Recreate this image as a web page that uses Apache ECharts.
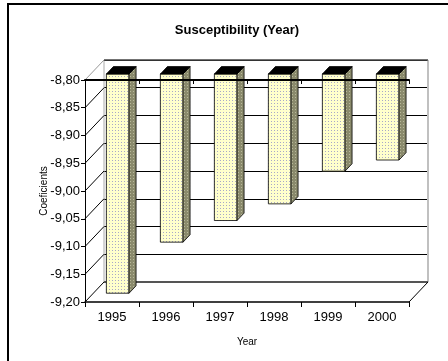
<!DOCTYPE html>
<html>
<head>
<meta charset="utf-8">
<script src="https://cdn.jsdelivr.net/npm/echarts@6/dist/echarts.min.js"></script>
<style>
  html, body { margin: 0; padding: 0; background: #fff; }
  #chart { width: 448px; height: 361px; }
</style>
</head>
<body>
<div id="chart"></div>
<script>
// ---- data ----
var years = ['1995', '1996', '1997', '1998', '1999', '2000'];
var coefValues = [-9.195, -9.103, -9.064, -9.034, -8.975, -8.955];
var yTicks = [-9.20, -9.15, -9.10, -9.05, -9.00, -8.95, -8.90, -8.85, -8.80];
var yMin = -9.20;
var yMax = -8.80;
var yStep = 0.05;

// depth of the fake 3d box (front plane -> back wall)
var DX = 19, DY = -20;
var FONT = "'Liberation Sans Narrow', 'Liberation Sans', Arial, sans-serif";

// dotted fill like the old excel pattern
function dots(bg, dot) {
    var c = document.createElement('canvas');
    c.width = 3; c.height = 3;
    var ctx = c.getContext('2d');
    ctx.fillStyle = bg;
    ctx.fillRect(0, 0, 3, 3);
    ctx.fillStyle = dot;
    ctx.fillRect(1, 1, 1, 1);
    return { image: c, repeat: 'repeat' };
}
var frontFill = dots('#ffffcc', '#a8a8c8');
var sideFill = dots('#8a8a6c', '#b8b89a');

function fmt(v) {
    return v.toFixed(2).replace('.', ',');
}

function renderBar(params, api) {
    var cat = api.value(0);
    var val = api.value(1);
    var top = api.coord([cat, yMax]);
    var bot = api.coord([cat, val]);
    var bw = api.size([1, 0])[0] * 0.42;
    var f0 = 0.3, d = 0.37;
    var xl = top[0] - bw / 2 + f0 * DX;
    var xr = top[0] + bw / 2 + f0 * DX;
    var yt = top[1] + f0 * DY;
    var yb = bot[1] + f0 * DY;
    var ox = d * DX, oy = d * DY;
    var edge = { stroke: '#000', lineWidth: 0.8 };
    return {
        type: 'group',
        children: [
            { type: 'rect', shape: { x: xl, y: yt, width: xr - xl, height: yb - yt },
              style: Object.assign({ fill: frontFill }, edge) },
            { type: 'polygon', shape: { points: [[xr, yt], [xr + ox, yt + oy], [xr + ox, yb + oy], [xr, yb]] },
              style: Object.assign({ fill: sideFill }, edge) },
            { type: 'polygon', shape: { points: [[xl, yt], [xr, yt], [xr + ox, yt + oy], [xl + ox, yt + oy]] },
              style: Object.assign({ fill: '#000' }, edge) }
        ]
    };
}

function renderFrame(params, api) {
    var cs = params.coordSys;
    var p = api.coord([0, api.value(0)]);
    var x = cs.x;
    var kids = [
        { type: 'line', shape: { x1: x, y1: p[1], x2: x + DX, y2: p[1] + DY },
          style: { stroke: api.value(0) === yMax ? '#999' : '#000', lineWidth: 1 } }
    ];
    if (params.dataIndex === 0) {
        var xr = cs.x + cs.width;
        var yb = cs.y + cs.height;
        var yt = cs.y;
        kids.push(
            { type: 'line', shape: { x1: x + DX, y1: yt + DY, x2: x + DX, y2: yb + DY }, style: { stroke: '#aaa', lineWidth: 1 } },
            { type: 'line', shape: { x1: xr + DX, y1: yt + DY, x2: xr + DX, y2: yb + DY }, style: { stroke: '#c0c0c0', lineWidth: 2 } },
            { type: 'line', shape: { x1: x + DX, y1: yt + DY, x2: xr + DX, y2: yt + DY }, style: { stroke: '#444', lineWidth: 1.5 } },
            { type: 'line', shape: { x1: x + DX, y1: yb + DY, x2: xr + DX, y2: yb + DY }, style: { stroke: '#555', lineWidth: 2 } },
            { type: 'line', shape: { x1: xr, y1: yb, x2: xr + DX, y2: yb + DY }, style: { stroke: '#000', lineWidth: 1 } }
        );
    }
    return { type: 'group', children: kids };
}

var dom = document.getElementById('chart');
var myChart = echarts.init(dom, null, { renderer: 'canvas' });

var option = {
    animation: false,
    backgroundColor: '#fff',
    textStyle: { fontFamily: FONT },
    title: {
        text: 'Susceptibility (Year)',
        left: 232,
        top: 19,
        textAlign: 'center',
        textStyle: { fontFamily: FONT, fontSize: 13, fontWeight: 'bold', color: '#000' }
    },
    graphic: [{
        type: 'rect',
        shape: { x: 8, y: 4, width: 460, height: 400 },
        style: { fill: 'none', stroke: '#000', lineWidth: 2 },
        silent: true
    }],
    grid: [
        // front plane
        { left: 85, right: 39, top: 80, bottom: 59 },
        // back wall
        { left: 85 + DX, right: 39 - DX, top: 80 + DY, bottom: 59 - DY }
    ],
    xAxis: [
        {
            gridIndex: 0, type: 'category', data: years, position: 'bottom',
            axisLine: { lineStyle: { color: '#000', width: 1.5 } },
            axisTick: { show: true, length: 5, lineStyle: { color: '#000' } },
            axisLabel: { color: '#000', fontSize: 13, fontFamily: FONT, margin: 9 },
            name: 'Year', nameLocation: 'middle', nameGap: 35, nameMoveOverlap: false,
            nameTextStyle: { color: '#000', fontSize: 10, fontFamily: FONT },
            z: 5
        },
        {
            gridIndex: 0, type: 'category', data: years, position: 'top',
            axisLine: { lineStyle: { color: '#000', width: 2 } },
            axisTick: { show: true, inside: true, length: 4, lineStyle: { color: '#000' } },
            axisLabel: { show: false },
            z: 10
        },
        {
            gridIndex: 1, type: 'category', data: years, show: false
        }
    ],
    yAxis: [
        {
            gridIndex: 0, type: 'value', min: yMin, max: yMax, interval: yStep,
            axisLine: { show: true, lineStyle: { color: '#000', width: 1 } },
            axisTick: { show: true, length: 4, lineStyle: { color: '#000' } },
            splitLine: { show: false },
            axisLabel: { color: '#000', fontSize: 13, fontFamily: FONT, margin: 5, formatter: fmt },
            name: 'Coeficients', nameLocation: 'middle', nameRotate: 90, nameGap: 36, nameMoveOverlap: false,
            nameTextStyle: { color: '#000', fontSize: 10, fontFamily: FONT },
            z: 5
        },
        {
            gridIndex: 1, type: 'value', min: yMin, max: yMax, interval: yStep,
            axisLine: { show: false }, axisTick: { show: false }, axisLabel: { show: false },
            splitLine: { show: true, lineStyle: { color: '#000', width: 1 } }
        }
    ],
    series: [
        {
            type: 'custom', name: 'frame', xAxisIndex: 0, yAxisIndex: 0,
            renderItem: renderFrame, data: yTicks.map(function (v) { return [v]; }),
            silent: true, z: 1
        },
        {
            type: 'custom', name: 'Coeficients', xAxisIndex: 0, yAxisIndex: 0,
            renderItem: renderBar,
            data: coefValues.map(function (v, i) { return [i, v]; }),
            encode: { x: 0, y: 1 },
            z: 3
        }
    ]
};

myChart.setOption(option);
window.onresize = function () {
    myChart.resize();
};
</script>
</body>
</html>
